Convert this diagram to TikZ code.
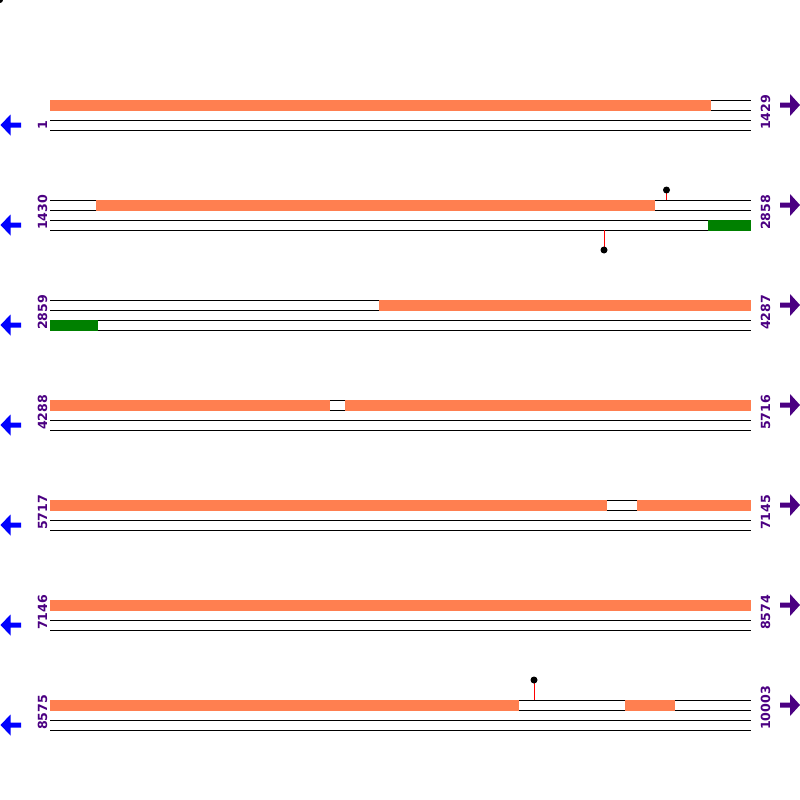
\documentclass[tikz,border=0pt]{standalone}
\usepackage{fontspec}
\setmainfont{DejaVu Sans}
\usepackage{tikz}
\definecolor{geneCoral}{HTML}{FF7F50}
\definecolor{seqIndigo}{HTML}{4B0082}
\definecolor{hitGreen}{HTML}{008000}

\begin{document}
\begin{tikzpicture}[x=1pt, y=-1pt]

			\tikzstyle{strand}=[black, line width=1pt]
			\tikzstyle{fwd feature}=[geneCoral, fill]
			\tikzstyle{rev feature}=[hitGreen, fill]
			\tikzstyle{site stem}=[red, line width=1pt]
			\tikzstyle{site dot}=[black, fill]
			\tikzstyle{pos label}=[seqIndigo, font=\fontsize{12.6}{14}\selectfont\bfseries, rotate=90, anchor=base west, inner sep=0pt]
			\tikzstyle{rev arrow}=[blue, fill]
			\tikzstyle{fwd arrow}=[seqIndigo, fill]

		\useasboundingbox (0,0) rectangle (800,800);

		%corner mark
		\fill [site dot] (0,0) circle [radius=3];

		%row 1
		\draw [strand] (50,100) -- (751,100);
		\draw [strand] (50,110) -- (751,110);
		\draw [strand] (50,120) -- (751,120);
		\draw [strand] (50,130) -- (751,130);
		\fill [fwd feature] (50,99.5) rectangle (711,110.5);
		\node [pos label] (l1) at (47,130) {1};
		\node [pos label] (r1) at (770,130) {1429};
		\fill [rev arrow] (0.5,125) -- ++(10,-10.5) -- ++(0,8) -- ++(10.5,0) -- ++(0,5) -- ++(-10.5,0) -- ++(0,8) -- cycle;
		\fill [fwd arrow] (800,105) -- ++(-10,-11) -- ++(0,8.5) -- ++(-10,0) -- ++(0,5) -- ++(10,0) -- ++(0,8.5) -- cycle;

		%row 2
		\draw [strand] (50,200) -- (751,200);
		\draw [strand] (50,210) -- (751,210);
		\draw [strand] (50,220) -- (751,220);
		\draw [strand] (50,230) -- (751,230);
		\fill [fwd feature] (96,199.5) rectangle (655,210.5);
		\fill [rev feature] (708,219.5) rectangle (751,230.5);
		\draw [site stem] (666.5,200) -- (666.5,190);
		\fill [site dot] (666.5,190) circle [radius=3.5];
		\draw [site stem] (604,230) -- (604,250);
		\fill [site dot] (604,250) circle [radius=3.5];
		\node [pos label] (l2) at (47,230) {1430};
		\node [pos label] (r2) at (770,230) {2858};
		\fill [rev arrow] (0.5,225) -- ++(10,-10.5) -- ++(0,8) -- ++(10.5,0) -- ++(0,5) -- ++(-10.5,0) -- ++(0,8) -- cycle;
		\fill [fwd arrow] (800,205) -- ++(-10,-11) -- ++(0,8.5) -- ++(-10,0) -- ++(0,5) -- ++(10,0) -- ++(0,8.5) -- cycle;

		%row 3
		\draw [strand] (50,300) -- (751,300);
		\draw [strand] (50,310) -- (751,310);
		\draw [strand] (50,320) -- (751,320);
		\draw [strand] (50,330) -- (751,330);
		\fill [fwd feature] (379,299.5) rectangle (751,310.5);
		\fill [rev feature] (50,319.5) rectangle (98,330.5);
		\node [pos label] (l3) at (47,330) {2859};
		\node [pos label] (r3) at (770,330) {4287};
		\fill [rev arrow] (0.5,325) -- ++(10,-10.5) -- ++(0,8) -- ++(10.5,0) -- ++(0,5) -- ++(-10.5,0) -- ++(0,8) -- cycle;
		\fill [fwd arrow] (800,305) -- ++(-10,-11) -- ++(0,8.5) -- ++(-10,0) -- ++(0,5) -- ++(10,0) -- ++(0,8.5) -- cycle;

		%row 4
		\draw [strand] (50,400) -- (751,400);
		\draw [strand] (50,410) -- (751,410);
		\draw [strand] (50,420) -- (751,420);
		\draw [strand] (50,430) -- (751,430);
		\fill [fwd feature] (50,399.5) rectangle (330,410.5);
		\fill [fwd feature] (345,399.5) rectangle (751,410.5);
		\node [pos label] (l4) at (47,430) {4288};
		\node [pos label] (r4) at (770,430) {5716};
		\fill [rev arrow] (0.5,425) -- ++(10,-10.5) -- ++(0,8) -- ++(10.5,0) -- ++(0,5) -- ++(-10.5,0) -- ++(0,8) -- cycle;
		\fill [fwd arrow] (800,405) -- ++(-10,-11) -- ++(0,8.5) -- ++(-10,0) -- ++(0,5) -- ++(10,0) -- ++(0,8.5) -- cycle;

		%row 5
		\draw [strand] (50,500) -- (751,500);
		\draw [strand] (50,510) -- (751,510);
		\draw [strand] (50,520) -- (751,520);
		\draw [strand] (50,530) -- (751,530);
		\fill [fwd feature] (50,499.5) rectangle (607,510.5);
		\fill [fwd feature] (637,499.5) rectangle (751,510.5);
		\node [pos label] (l5) at (47,530) {5717};
		\node [pos label] (r5) at (770,530) {7145};
		\fill [rev arrow] (0.5,525) -- ++(10,-10.5) -- ++(0,8) -- ++(10.5,0) -- ++(0,5) -- ++(-10.5,0) -- ++(0,8) -- cycle;
		\fill [fwd arrow] (800,505) -- ++(-10,-11) -- ++(0,8.5) -- ++(-10,0) -- ++(0,5) -- ++(10,0) -- ++(0,8.5) -- cycle;

		%row 6
		\draw [strand] (50,600) -- (751,600);
		\draw [strand] (50,610) -- (751,610);
		\draw [strand] (50,620) -- (751,620);
		\draw [strand] (50,630) -- (751,630);
		\fill [fwd feature] (50,599.5) rectangle (751,610.5);
		\node [pos label] (l6) at (47,630) {7146};
		\node [pos label] (r6) at (770,630) {8574};
		\fill [rev arrow] (0.5,625) -- ++(10,-10.5) -- ++(0,8) -- ++(10.5,0) -- ++(0,5) -- ++(-10.5,0) -- ++(0,8) -- cycle;
		\fill [fwd arrow] (800,605) -- ++(-10,-11) -- ++(0,8.5) -- ++(-10,0) -- ++(0,5) -- ++(10,0) -- ++(0,8.5) -- cycle;

		%row 7
		\draw [strand] (50,700) -- (751,700);
		\draw [strand] (50,710) -- (751,710);
		\draw [strand] (50,720) -- (751,720);
		\draw [strand] (50,730) -- (751,730);
		\fill [fwd feature] (50,699.5) rectangle (519,710.5);
		\fill [fwd feature] (625,699.5) rectangle (675,710.5);
		\draw [site stem] (534,700) -- (534,680);
		\fill [site dot] (534,680) circle [radius=3.5];
		\node [pos label] (l7) at (47,730) {8575};
		\node [pos label] (r7) at (770,730) {10003};
		\fill [rev arrow] (0.5,725) -- ++(10,-10.5) -- ++(0,8) -- ++(10.5,0) -- ++(0,5) -- ++(-10.5,0) -- ++(0,8) -- cycle;
		\fill [fwd arrow] (800,705) -- ++(-10,-11) -- ++(0,8.5) -- ++(-10,0) -- ++(0,5) -- ++(10,0) -- ++(0,8.5) -- cycle;

		\end{tikzpicture}
\end{document}
